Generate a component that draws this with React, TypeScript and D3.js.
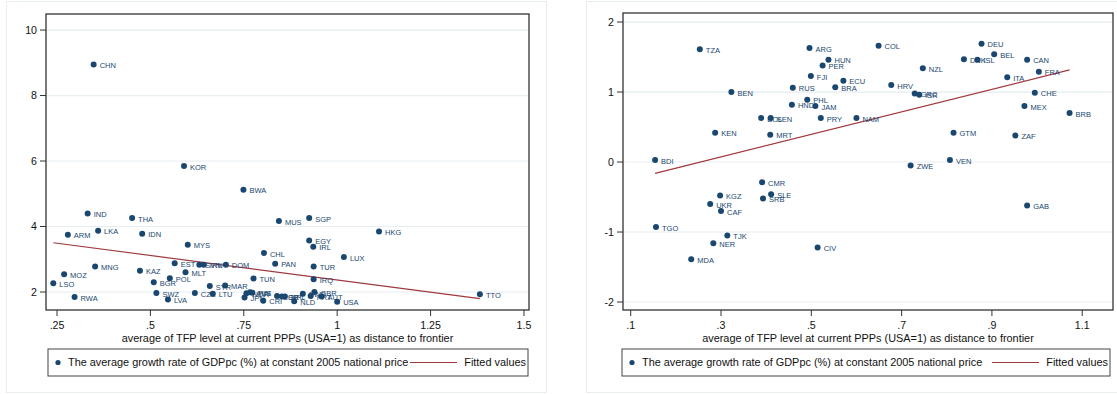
import React from "react";
import * as d3 from "d3";

// Left panel: country codes, TFP level (USA=1) and average GDPpc growth (%)
const leftCodes = [
  "CHN", "KOR", "BWA", "IND", "THA", "ARM", "LKA", "IDN", "MYS", "MNG",
  "KAZ", "MOZ", "LSO", "RWA", "EST", "SVN", "IRN", "MLT", "BGR", "POL",
  "SWZ", "LVA", "CZE", "LTU", "SYR", "MAR", "DOM", "TUN", "CHL", "PAN",
  "MUS", "SGP", "EGY", "IRL", "TUR", "IRQ", "LUX", "HKG", "TTO", "JPN",
  "NOR", "AUS", "FIN", "CRI", "ESP", "GRC", "NPL", "NLD", "SWE", "PRT",
  "GBR", "AUT", "USA",
];
const leftTfp = [
  0.348, 0.59, 0.749, 0.332, 0.451, 0.279, 0.36, 0.478, 0.6, 0.352,
  0.472, 0.269, 0.24, 0.297, 0.565, 0.631, 0.643, 0.594, 0.509, 0.552,
  0.516, 0.547, 0.619, 0.667, 0.659, 0.7, 0.702, 0.776, 0.804, 0.834,
  0.844, 0.925, 0.925, 0.936, 0.937, 0.937, 1.018, 1.112, 1.382, 0.752,
  0.757, 0.767, 0.773, 0.802, 0.839, 0.852, 0.86, 0.885, 0.908, 0.929,
  0.939, 0.958, 1.0,
];
const leftGrowth = [
  8.95, 5.85, 5.12, 4.4, 4.26, 3.75, 3.87, 3.78, 3.44, 2.78,
  2.65, 2.54, 2.27, 1.85, 2.88, 2.83, 2.83, 2.6, 2.3, 2.42,
  1.97, 1.77, 1.97, 1.95, 2.18, 2.2, 2.83, 2.41, 3.19, 2.86,
  4.17, 4.26, 3.57, 3.38, 2.78, 2.39, 3.07, 3.85, 1.93, 1.83,
  1.96, 1.99, 1.98, 1.73, 1.88, 1.86, 1.86, 1.72, 1.95, 1.88,
  2.0, 1.86, 1.7,
];
const leftFit = [3.864, -1.497]; // intercept, slope

// Right panel
const rightCodes = [
  "TZA", "ARG", "HUN", "PER", "FJI", "RUS", "BEN", "PHL", "HND", "JAM",
  "BRA", "ECU", "COL", "BOL", "SEN", "PRY", "KEN", "MRT", "BDI", "CMR",
  "KGZ", "SLE", "SRB", "UKR", "CAF", "TGO", "TJK", "NER", "MDA", "CIV",
  "DEU", "BEL", "DNK", "ISL", "CAN", "NZL", "ITA", "FRA", "HRV", "GRC",
  "ISR", "CHE", "MEX", "BRB", "NAM", "GTM", "ZAF", "VEN", "ZWE", "GAB",
];
const rightTfp = [
  0.253, 0.496, 0.538, 0.525, 0.499, 0.459, 0.323, 0.491, 0.457, 0.509,
  0.553, 0.571, 0.649, 0.389, 0.41, 0.521, 0.287, 0.409, 0.154, 0.391,
  0.298, 0.411, 0.393, 0.276, 0.3, 0.156, 0.314, 0.283, 0.234, 0.514,
  0.877, 0.905, 0.838, 0.868, 0.978, 0.747, 0.934, 1.004, 0.677, 0.729,
  0.739, 0.995, 0.972, 1.072, 0.6, 0.815, 0.952, 0.807, 0.72, 0.978,
];
const rightGrowth = [
  1.61, 1.63, 1.46, 1.38, 1.23, 1.06, 1.0, 0.89, 0.82, 0.8,
  1.07, 1.16, 1.66, 0.63, 0.63, 0.63, 0.42, 0.39, 0.03, -0.29,
  -0.48, -0.46, -0.52, -0.6, -0.7, -0.93, -1.05, -1.16, -1.39, -1.22,
  1.69, 1.54, 1.47, 1.46, 1.46, 1.34, 1.21, 1.29, 1.1, 0.98,
  0.96, 0.99, 0.8, 0.7, 0.63, 0.42, 0.38, 0.03, -0.05, -0.62,
];
const rightFit = [-0.41, 1.61];

const leftXTicks = [0.25, 0.5, 0.75, 1, 1.25, 1.5];
const leftXTickLabels = [".25", ".5", ".75", "1", "1.25", "1.5"];
const leftYTicks = [2, 4, 6, 8, 10];
const rightXTicks = [0.1, 0.3, 0.5, 0.7, 0.9, 1.1];
const rightXTickLabels = [".1", ".3", ".5", ".7", ".9", "1.1"];
const rightYTicks = [-2, -1, 0, 1, 2];

const xTitle = "average of TFP level at current PPPs (USA=1) as distance to frontier";
const legendSeries = "The average growth rate of GDPpc (%) at constant 2005 national price";
const legendFit = "Fitted values";

const NAVY = "#1a476f";
const MAROON = "#a0393f";
const GRID = "#e6eef1";
const FONT = "'Liberation Sans', Arial, Helvetica, sans-serif";
const TICK_SIZE = 10.6;
const TEXT_SIZE = 10.9;

type Box = { left: number; right: number; top: number; bottom: number };

type PanelProps = {
  codes: string[];
  xs: number[];
  ys: number[];
  fit: number[];
  xTicks: number[];
  xTickLabels: string[];
  yTicks: number[];
  xDomain: [number, number];
  yDomain: [number, number];
  plot: Box;
  frame: Box;
  legend: Box;
};

function Panel(p: PanelProps) {
  const x = d3.scaleLinear().domain(p.xDomain).range([p.plot.left, p.plot.right]);
  const y = d3.scaleLinear().domain(p.yDomain).range([p.plot.bottom, p.plot.top]);
  const [xa, xb] = d3.extent(p.xs) as [number, number];
  const fitLine = d3
    .line<number>()
    .x((v) => x(v))
    .y((v) => y(p.fit[0] + p.fit[1] * v))([xa, xb]);
  const midX = (p.plot.left + p.plot.right) / 2;
  const lg = p.legend;
  const lgMid = (lg.top + lg.bottom) / 2;

  return (
    <g>
      <rect
        x={p.frame.left}
        y={p.frame.top}
        width={p.frame.right - p.frame.left}
        height={p.frame.bottom - p.frame.top}
        fill="#fff"
        stroke={GRID}
        strokeWidth={1}
      />
      {p.yTicks.map((t) => (
        <line
          key={"g" + t}
          x1={p.plot.left}
          x2={p.plot.right}
          y1={y(t)}
          y2={y(t)}
          stroke={GRID}
          strokeWidth={1.2}
        />
      ))}
      {p.yTicks.map((t) => (
        <g key={"y" + t}>
          <line x1={p.plot.left - 6} x2={p.plot.left} y1={y(t)} y2={y(t)} stroke="#333" strokeWidth={1} />
          <text
            x={p.plot.left - 9}
            y={y(t)}
            dy="0.35em"
            textAnchor="end"
            fontSize={TICK_SIZE}
            fill="#111"
          >
            {String(t)}
          </text>
        </g>
      ))}
      {p.xTicks.map((t, i) => (
        <g key={"x" + t}>
          <line x1={x(t)} x2={x(t)} y1={p.plot.bottom} y2={p.plot.bottom + 6} stroke="#333" strokeWidth={1} />
          <text x={x(t)} y={p.plot.bottom + 18.5} textAnchor="middle" fontSize={TICK_SIZE} fill="#111">
            {p.xTickLabels[i]}
          </text>
        </g>
      ))}
      <text x={midX} y={p.plot.bottom + 31.5} textAnchor="middle" fontSize={TEXT_SIZE} fill="#111">
        {xTitle}
      </text>
      <path d={fitLine ?? ""} fill="none" stroke={MAROON} strokeWidth={1.2} />
      {p.codes.map((c, i) => (
        <g key={c}>
          <circle cx={x(p.xs[i])} cy={y(p.ys[i])} r={3} fill={NAVY} />
          <text
            x={x(p.xs[i]) + 6}
            y={y(p.ys[i]) + 1}
            dy="0.35em"
            fontSize={7.5}
            fill={NAVY}
          >
            {c}
          </text>
        </g>
      ))}
      <rect
        x={p.plot.left}
        y={p.plot.top}
        width={p.plot.right - p.plot.left}
        height={p.plot.bottom - p.plot.top}
        fill="none"
        stroke="#333"
        strokeWidth={1.3}
      />
      <rect
        x={lg.left}
        y={lg.top}
        width={lg.right - lg.left}
        height={lg.bottom - lg.top}
        fill="#fff"
        stroke="#444"
        strokeWidth={1}
      />
      <circle cx={lg.left + 10} cy={lgMid} r={2.6} fill={NAVY} />
      <text x={lg.left + 20} y={lgMid} dy="0.35em" fontSize={TEXT_SIZE} fill="#111">
        {legendSeries}
      </text>
      <line
        x1={lg.right - 118}
        x2={lg.right - 71}
        y1={lgMid}
        y2={lgMid}
        stroke={MAROON}
        strokeWidth={1.2}
      />
      <text x={lg.right - 2} y={lgMid} dy="0.35em" textAnchor="end" fontSize={TEXT_SIZE} fill="#111">
        {legendFit}
      </text>
    </g>
  );
}

export default function App() {
  return (
    <svg
      width={1117}
      height={394}
      style={{ position: "absolute", left: 0, top: 0, fontFamily: FONT, background: "#fff" }}
    >
      <Panel
        codes={leftCodes}
        xs={leftTfp}
        ys={leftGrowth}
        fit={leftFit}
        xTicks={leftXTicks}
        xTickLabels={leftXTickLabels}
        yTicks={leftYTicks}
        xDomain={[0.2205, 1.5135]}
        yDomain={[1.45, 10.49]}
        plot={{ left: 46, right: 529, top: 14, bottom: 310 }}
        frame={{ left: 6.5, right: 546.5, top: 1.5, bottom: 392.5 }}
        legend={{ left: 48, right: 528, top: 349, bottom: 376 }}
      />
      <Panel
        codes={rightCodes}
        xs={rightTfp}
        ys={rightGrowth}
        fit={rightFit}
        xTicks={rightXTicks}
        xTickLabels={rightXTickLabels}
        yTicks={rightYTicks}
        xDomain={[0.0829, 1.1682]}
        yDomain={[-2.114, 2.129]}
        plot={{ left: 623, right: 1113, top: 13, bottom: 310 }}
        frame={{ left: 586.5, right: 1130, top: 1.5, bottom: 392.5 }}
        legend={{ left: 622, right: 1110, top: 349, bottom: 376 }}
      />
    </svg>
  );
}
